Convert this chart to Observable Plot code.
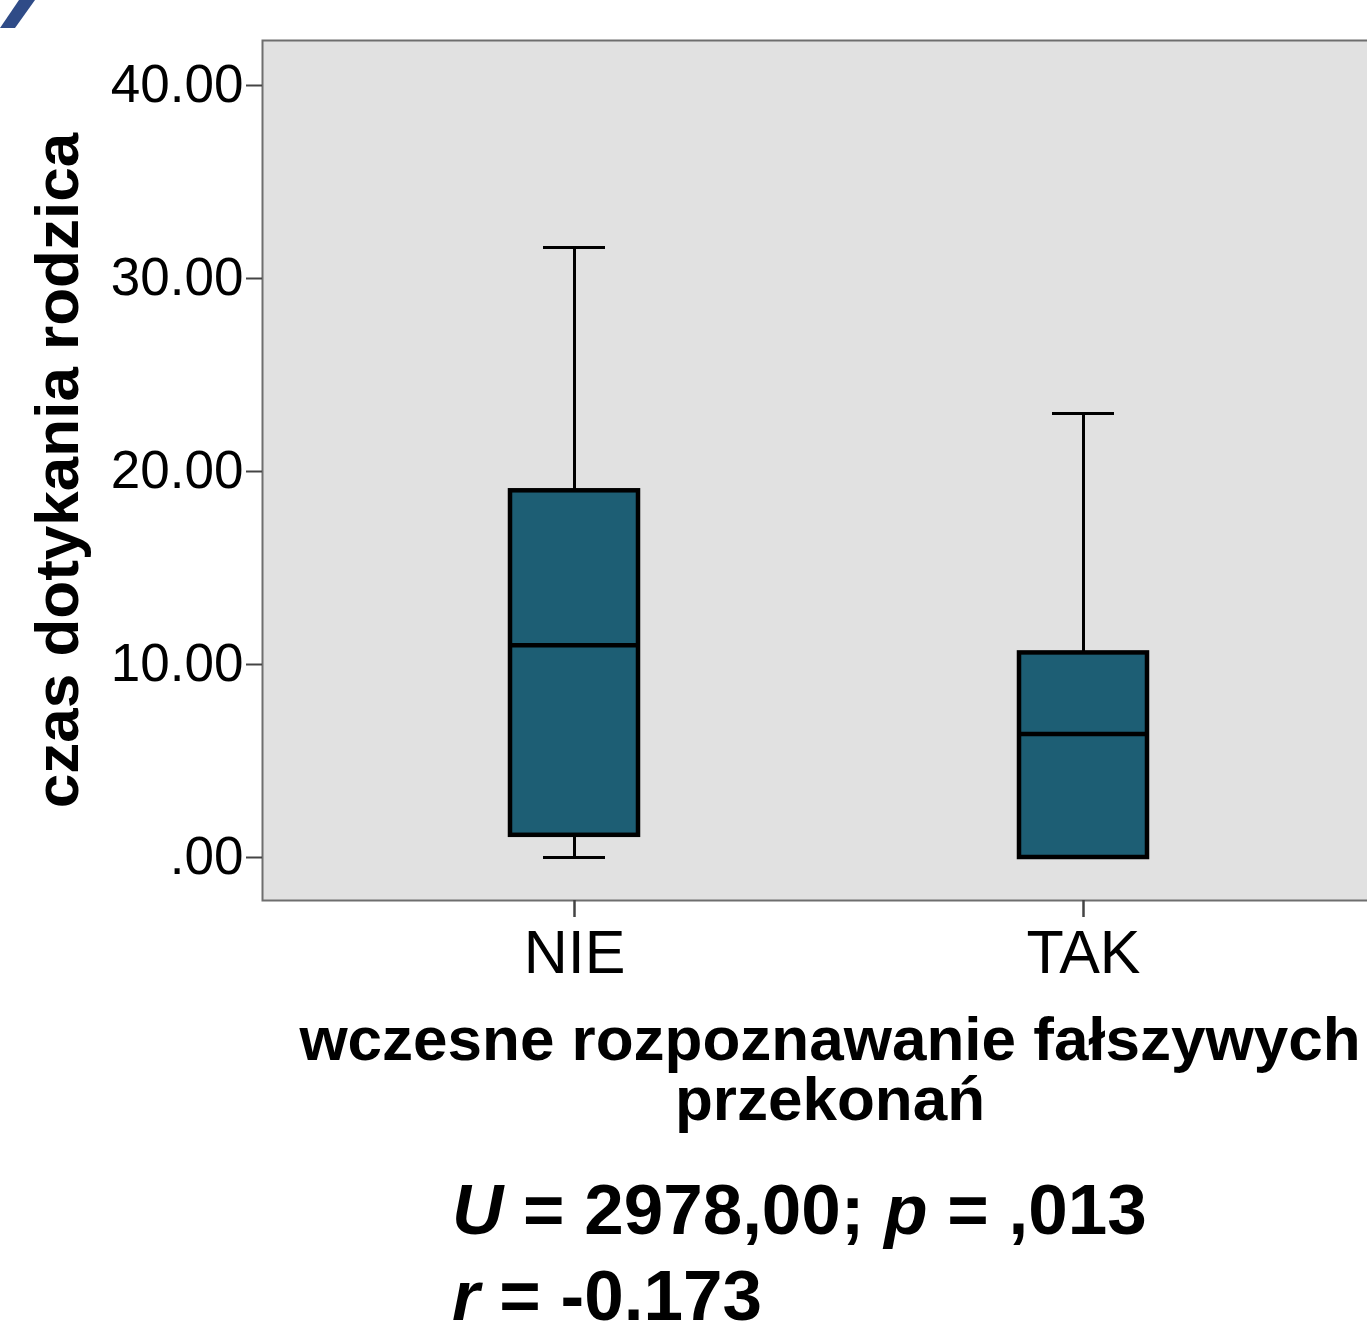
<!DOCTYPE html>
<html><head><meta charset="utf-8">
<script src="https://cdn.jsdelivr.net/npm/d3@7"></script>
<script src="https://cdn.jsdelivr.net/npm/@observablehq/plot@0.6"></script>
<style>
html,body{margin:0;padding:0;background:#fff;overflow:hidden;}
#wrap{position:relative;width:1367px;height:1321px;overflow:hidden;font-family:"Liberation Sans",Arial,sans-serif;}
#chart{position:absolute;left:0;top:0;}
#deco{position:absolute;left:0;top:0;}
#xtitle{position:absolute;left:230px;width:1200px;top:1009px;text-align:center;font-weight:bold;font-size:62px;line-height:60px;white-space:nowrap;color:#000;}
#stats{position:absolute;left:452px;top:1167px;font-weight:bold;font-size:71px;line-height:86px;white-space:nowrap;color:#000;}
#stats i{font-style:italic;}
</style></head><body>
<div id="wrap">
  <div id="chart"></div>
  <svg id="deco" width="40" height="30"><polygon points="0,28 15,28 35,0 19,0" fill="#2f4b87"/></svg>
  <div id="xtitle"></div>
  <div id="stats"></div>
</div>
<script>
const categories = ["NIE", "TAK"];
const q1 = [1.15, 0];
const median = [11.0, 6.4];
const q3 = [19.0, 10.6];
const whiskerLow = [0, 0];
const whiskerHigh = [31.6, 23.0];
const yTicks = [0, 10, 20, 30, 40];
const yTickLabels = [".00", "10.00", "20.00", "30.00", "40.00"];
const yLabel = "czas dotykania rodzica";
const xTitle = ["wczesne rozpoznawanie fałszywych", "przekonań"];
const statsLines = [
  [["U", true], [" = 2978,00; ", false], ["p", true], [" = ,013", false]],
  [["r", true], [" = -0.173", false]]
];

const data = categories.map((c, i) => ({cat: c, q1: q1[i], med: median[i], q3: q3[i], lo: whiskerLow[i], hi: whiskerHigh[i]}));

const plot = Plot.plot({
  width: 1367, height: 1000,
  marginLeft: 262, marginRight: -4, marginTop: 40, marginBottom: 100,
  style: {fontFamily: "'Liberation Sans', Arial, sans-serif", background: "transparent", overflow: "hidden", color: "#000"},
  x: {type: "band", domain: categories, range: [509, 1147], paddingInner: 0.749, paddingOuter: 0, label: null},
  y: {domain: [0, 40], range: [857, 85], label: null},
  marks: [
    Plot.frame({fill: "#e1e1e1", stroke: "#6e6e6e", strokeWidth: 2}),
    Plot.axisY({ticks: yTicks, tickFormat: d => yTickLabels[yTicks.indexOf(d)], tickSize: 16, tickPadding: 3, fontSize: 53, strokeWidth: 2, stroke: "#444", fill: "#000"}),
    Plot.axisX({tickSize: 17, tickPadding: 12, fontSize: 61, strokeWidth: 2.5, stroke: "#444", fill: "#000"}),
    Plot.ruleX(data, {x: "cat", y1: "lo", y2: "hi", stroke: "#000", strokeWidth: 3}),
    Plot.tickY(data, {x: "cat", y: "lo", insetLeft: 33, insetRight: 33, stroke: "#000", strokeWidth: 3}),
    Plot.tickY(data, {x: "cat", y: "hi", insetLeft: 33, insetRight: 33, stroke: "#000", strokeWidth: 3}),
    Plot.barY(data, {x: "cat", y1: "q1", y2: "q3", fill: "#1d5e74", stroke: "#000", strokeWidth: 4.5}),
    Plot.tickY(data, {x: "cat", y: "med", stroke: "#000", strokeWidth: 4.5}),
    Plot.text([yLabel], {frameAnchor: "left", dx: -204, rotate: -90, fontSize: 62, fontWeight: "bold", text: d => d, textAnchor: "middle", lineAnchor: "middle", fill: "#000"})
  ]
});
document.getElementById("chart").appendChild(plot);

const xt = document.getElementById("xtitle");
xTitle.forEach(t => { const d = document.createElement("div"); d.textContent = t; xt.appendChild(d); });
const st = document.getElementById("stats");
statsLines.forEach(line => {
  const d = document.createElement("div");
  line.forEach(([t, it]) => { const s = document.createElement(it ? "i" : "span"); s.textContent = t; d.appendChild(s); });
  st.appendChild(d);
});
</script>
</body></html>
